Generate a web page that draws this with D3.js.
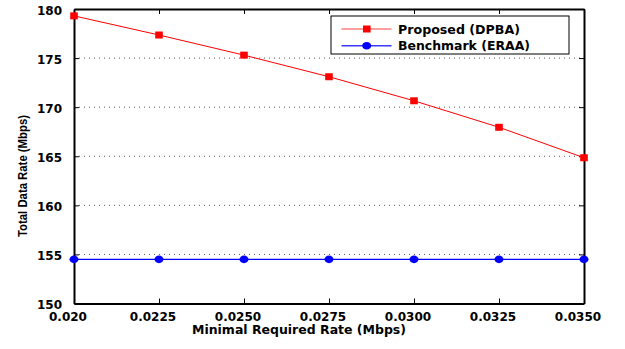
<!DOCTYPE html>
<html>
<head>
<meta charset="utf-8">
<script src="https://cdn.jsdelivr.net/npm/d3@7"></script>
<style>
body { margin: 0; background: #fff; }
svg text { font-family: "DejaVu Sans", sans-serif; font-weight: bold; fill: #000; }
</style>
</head>
<body>
<svg id="chart" width="625" height="349"></svg>
<script>
var rates = [0.020, 0.0225, 0.0250, 0.0275, 0.0300, 0.0325, 0.0350];
var xTickLabels = ["0.020", "0.0225", "0.0250", "0.0275", "0.0300", "0.0325", "0.0350"];
var proposed = [179.3, 177.35, 175.3, 173.1, 170.65, 167.95, 164.85];
var benchmark = [154.5, 154.5, 154.5, 154.5, 154.5, 154.5, 154.5];
var yTicks = [150, 155, 160, 165, 170, 175, 180];
var seriesNames = ["Proposed (DPBA)", "Benchmark (ERAA)"];

var margin = {top: 9, right: 41, bottom: 45.5, left: 74};
var width = 625, height = 349;
var chartWidth = width - margin.left - margin.right;
var chartHeight = height - margin.top - margin.bottom;

var svg = d3.select("#chart");
var g = svg.append("g")
    .attr("transform", "translate(" + margin.left + "," + margin.top + ")");

var xScale = d3.scaleLinear().domain([0.020, 0.035]).range([0, chartWidth]);
var yScale = d3.scaleLinear().domain([150, 180]).range([chartHeight, 0]);

// dotted horizontal grid
g.append("g").selectAll("line")
    .data(yTicks.slice(1, -1))
    .enter().append("line")
    .attr("x1", 0).attr("x2", chartWidth)
    .attr("y1", function(d){ return yScale(d); })
    .attr("y2", function(d){ return yScale(d); })
    .style("stroke", "#555")
    .style("stroke-width", 1)
    .style("stroke-dasharray", "1,4");

// axes, ticks inward
var xAxis = g.append("g")
    .attr("transform", "translate(0," + chartHeight + ")")
    .call(d3.axisBottom(xScale).tickValues(rates)
        .tickFormat(function(d, i){ return xTickLabels[i]; })
        .tickSizeInner(-5).tickSizeOuter(0).tickPadding(9));

var xAxisTop = g.append("g")
    .call(d3.axisTop(xScale).tickValues(rates).tickFormat("")
        .tickSizeInner(-5).tickSizeOuter(0));

var yAxis = g.append("g")
    .call(d3.axisLeft(yScale).tickValues(yTicks)
        .tickSizeInner(-5).tickSizeOuter(0).tickPadding(12));

var yAxisRight = g.append("g")
    .attr("transform", "translate(" + chartWidth + ",0)")
    .call(d3.axisRight(yScale).tickValues(yTicks).tickFormat("")
        .tickSizeInner(-5).tickSizeOuter(0));

[xAxis, xAxisTop, yAxis, yAxisRight].forEach(function(a){
    a.select(".domain").style("stroke", "#000").style("stroke-width", 2);
    a.selectAll(".tick line").style("stroke", "#000").style("stroke-width", 1);
    a.selectAll("text").style("font-size", "12px")
        .style("font-family", "'DejaVu Sans', sans-serif")
        .style("font-weight", "bold");
});
yAxis.selectAll("text").attr("dy", "0.45em");
xAxis.selectAll("text").attr("x", -6.5);

// lines
var line = d3.line()
    .x(function(d, i){ return xScale(rates[i]); })
    .y(function(d){ return yScale(d); });

g.append("path").datum(benchmark)
    .attr("d", line)
    .style("fill", "none").style("stroke", "#0000ff").style("stroke-width", 1.2);

g.append("path").datum(proposed)
    .attr("d", line)
    .style("fill", "none").style("stroke", "#ff0000").style("stroke-width", 1);

g.selectAll("ellipse.bm")
    .data(benchmark).enter().append("ellipse")
    .attr("class", "bm")
    .attr("cx", function(d, i){ return xScale(rates[i]); })
    .attr("cy", function(d){ return yScale(d); })
    .attr("rx", 4.5).attr("ry", 3.8)
    .style("fill", "#0000ff");

g.selectAll("rect.pr")
    .data(proposed).enter().append("rect")
    .attr("class", "pr")
    .attr("x", function(d, i){ return xScale(rates[i]) - 3.8; })
    .attr("y", function(d){ return yScale(d) - 3.5; })
    .attr("width", 7.6).attr("height", 7)
    .style("fill", "#ff0000");

// axis titles
svg.append("text")
    .attr("x", 299)
    .attr("y", 334)
    .attr("text-anchor", "middle")
    .attr("textLength", 214)
    .attr("lengthAdjust", "spacingAndGlyphs")
    .style("font-size", "11.5px")
    .text("Minimal Required Rate (Mbps)");

svg.append("text")
    .attr("transform", "translate(27,176) rotate(-90)")
    .attr("text-anchor", "middle")
    .attr("textLength", 122)
    .attr("lengthAdjust", "spacingAndGlyphs")
    .style("font-family", "'Liberation Sans', Arial, sans-serif")
    .style("font-size", "12px")
    .text("Total Data Rate (Mbps)");

// legend
var legend = svg.append("g").attr("transform", "translate(331,16)");
legend.append("rect")
    .attr("width", 238).attr("height", 38)
    .style("fill", "#fff").style("stroke", "#000").style("stroke-width", 1);

var colors = ["#ff8080", "#3a3aff"];
seriesNames.forEach(function(name, i){
    var row = legend.append("g").attr("transform", "translate(0," + (13 + i * 16.7) + ")");
    row.append("line")
        .attr("x1", 10.5).attr("x2", 60.5)
        .style("stroke", colors[i]).style("stroke-width", 1.5);
    if (i === 0) {
        row.append("rect").attr("x", 32).attr("y", -3.5).attr("width", 7.6).attr("height", 7)
            .style("fill", "#ff0000");
    } else {
        row.append("ellipse").attr("cx", 35.7).attr("rx", 4.5).attr("ry", 3.8)
            .style("fill", "#0000ff");
    }
    row.append("text")
        .attr("x", 67).attr("dy", "0.38em")
        .attr("textLength", i === 0 ? 122 : 132)
        .attr("lengthAdjust", "spacingAndGlyphs")
        .style("font-size", "12px")
        .text(name);
});
</script>
</body>
</html>
